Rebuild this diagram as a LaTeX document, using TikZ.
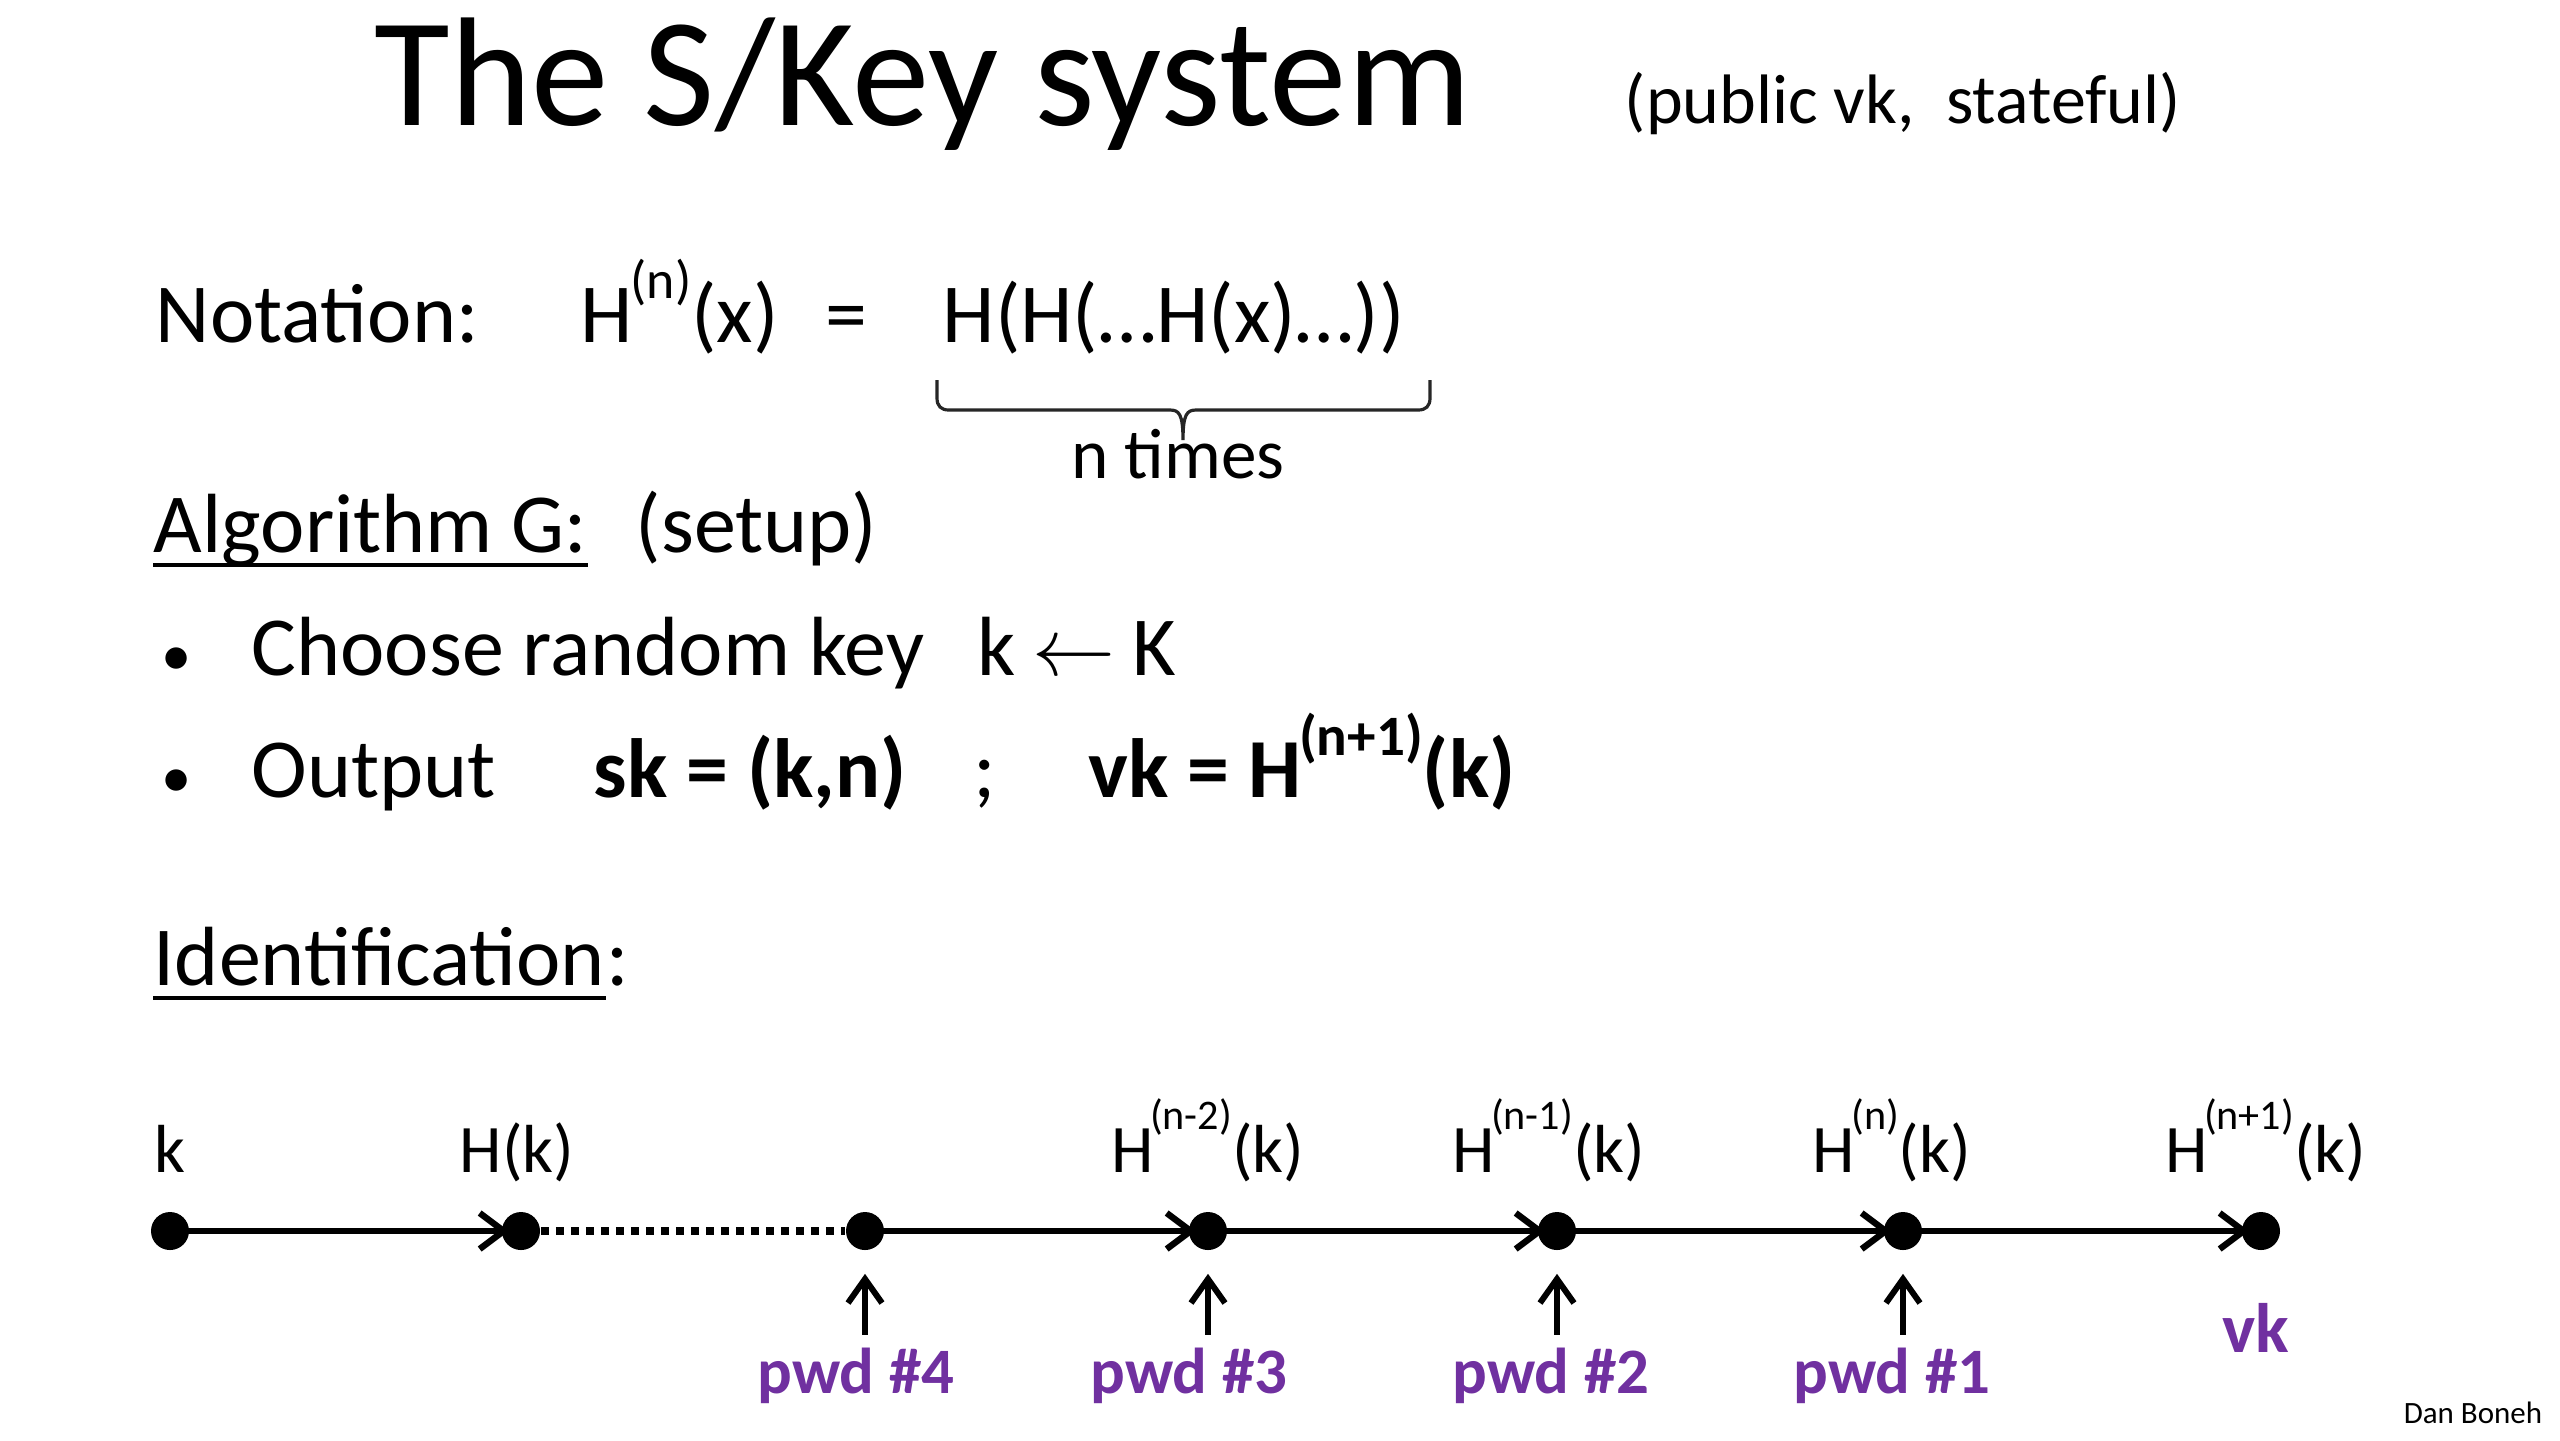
\documentclass[tikz,border=0pt]{standalone}
\usepackage{fontspec}
\setmainfont{Carlito}
\usetikzlibrary{arrows.meta}
\definecolor{purp}{HTML}{7030A0}
\newcommand\supa[1]{\kern-0.03em\raisebox{0.52em}{\scalebox{0.64}{#1}}}
\newcommand\supc[1]{\kern-0.03em\raisebox{0.5em}{\scalebox{0.68}{#1}}}
\newcommand\supb[1]{\kern-0.06em\raisebox{0.62em}{\scalebox{0.62}{#1}}}
\begin{document}
\begin{tikzpicture}[x=0.25pt,y=-0.25pt,
  txt/.style={inner sep=0pt, anchor=base west},
  titlef/.style={txt, font=\fontsize{38.75}{46}\selectfont},
  subf/.style={txt, font=\fontsize{17.5}{21}\selectfont},
  bodyf/.style={txt, font=\fontsize{21}{25}\selectfont},
  labf/.style={inner sep=0pt, anchor=base, font=\fontsize{17}{20}\selectfont},
  pwdf/.style={inner sep=0pt, anchor=base, text=purp, font=\fontsize{16.2}{19}\selectfont\bfseries},
  dotn/.style={circle, fill=black, minimum size=9.5pt, inner sep=0pt},
  chainarr/.style={line width=1.6pt, -{Straight Barb[length=6pt,width=9pt]}, shorten >=3pt},
  dotline/.style={line width=1.8pt, dash pattern=on 2pt off 1.75pt},
  uparr/.style={line width=1.5pt, -{Straight Barb[length=6pt,width=8.5pt]}, shorten <=3pt},
  uline/.style={line width=1pt},
  bracel/.style={line width=0.8pt, color=black!85}]
\fill[white] (0,0) rectangle (2560,1440);
\useasboundingbox (0,0) rectangle (2560,1440);

% title
\node[titlef] (title) at (374,125) {The S/Key system};
\node[subf] (subtitle) at (1624,123) {(public vk,\ \ stateful)};

% notation
\node[bodyf] (notation) at (155,342) {Notation:};
\node[bodyf] (hnx) at (580,342) {H\supa{(n)}(x)};
\node[bodyf] (eq) at (825,342) {=};
\node[bodyf] (hh) at (942,342) {H(H(…H(x)…))};
\draw[bracel] (937,380) -- (937,398) .. controls (937,406) and (941,410) .. (949,410)
  -- (1170,410) .. controls (1179,410) and (1183,414) .. (1183,440)
  .. controls (1183,414) and (1187,410) .. (1196,410)
  -- (1418,410) .. controls (1426,410) and (1430,406) .. (1430,398) -- (1430,380);
\node[inner sep=0pt, anchor=base, font=\fontsize{17.8}{21}\selectfont] (ntimes) at (1178,478) {n times};

% algorithm G
\node[bodyf] (alg) at (153,552) {Algorithm G:};
\draw[uline] ([yshift=-3.25pt]alg.base west) -- ([yshift=-3.25pt]alg.base east);
\node[bodyf] (setup) at (635,552) {(setup)};

\node[bodyf] (b1) at (161,675) {\scalebox{0.72}{•}};
\node[bodyf] (choose) at (251,675) {Choose random key};
\node[bodyf] (kK) at (977,675) {k\hspace{0.2em}$\leftarrow$\hspace{0.2em}K};
\node[bodyf] (b2) at (161,797) {\scalebox{0.72}{•}};
\node[bodyf] (output) at (251,797) {Output};
\node[bodyf, font=\fontsize{21}{25}\selectfont\bfseries] (sk) at (593,797) {sk = (k,n)};
\node[bodyf] (semi) at (973,797) {;};
\node[bodyf, font=\fontsize{21}{25}\selectfont\bfseries] (vkdef) at (1088,797) {vk = H\supc{(n+1)}(k)};

% identification
\node[bodyf] (ident) at (153,985) {Identification};
\node[bodyf] (identc) at (ident.base east) {:};
\draw[uline] ([yshift=-3.25pt]ident.base west) -- ([yshift=-3.25pt]ident.base east);

% chain
\node[dotn] (c0) at (170,1231) {};
\node[dotn] (c1) at (521,1231) {};
\node[dotn] (c2) at (865,1231) {};
\node[dotn] (c3) at (1208,1231) {};
\node[dotn] (c4) at (1557,1231) {};
\node[dotn] (c5) at (1903,1231) {};
\node[dotn] (c6) at (2261,1231) {};

\node[labf] (l0) at (170,1172) {k};
\node[labf] (l1) at (517,1172) {H(k)};
\node[labf] (l3) at (1208,1172) {H\supb{(n-2)}(k)};
\node[labf] (l4) at (1549,1172) {H\supb{(n-1)}(k)};
\node[labf] (l5) at (1892,1172) {H\supb{(n)}(k)};
\node[labf] (l6) at (2266,1172) {H\supb{(n+1)}(k)};

\draw[chainarr] (c0.center) -- (c1.center);
\draw[dotline] (c1) -- (c2);
\draw[chainarr] (c2.center) -- (c3.center);
\draw[chainarr] (c3.center) -- (c4.center);
\draw[chainarr] (c4.center) -- (c5.center);
\draw[chainarr] (c5.center) -- (c6.center);

\node[pwdf] (p4) at (856,1393) {pwd \#4};
\node[pwdf] (p3) at (1189,1393) {pwd \#3};
\node[pwdf] (p2) at (1551,1393) {pwd \#2};
\node[pwdf] (p1) at (1892,1393) {pwd \#1};
\node[pwdf, font=\fontsize{17.5}{20}\selectfont\bfseries] (vk) at (2256,1352) {vk};

\draw[uparr] (p4.north -| c2) -- ([yshift=-5.75pt]c2.south);
\draw[uparr] (p3.north -| c3) -- ([yshift=-5.75pt]c3.south);
\draw[uparr] (p2.north -| c4) -- ([yshift=-5.75pt]c4.south);
\draw[uparr] (p1.north -| c5) -- ([yshift=-5.75pt]c5.south);

\node[inner sep=0pt, anchor=base east, font=\fontsize{7.75}{9}\selectfont] (author) at (2543,1423) {Dan Boneh};
\end{tikzpicture}
\end{document}
